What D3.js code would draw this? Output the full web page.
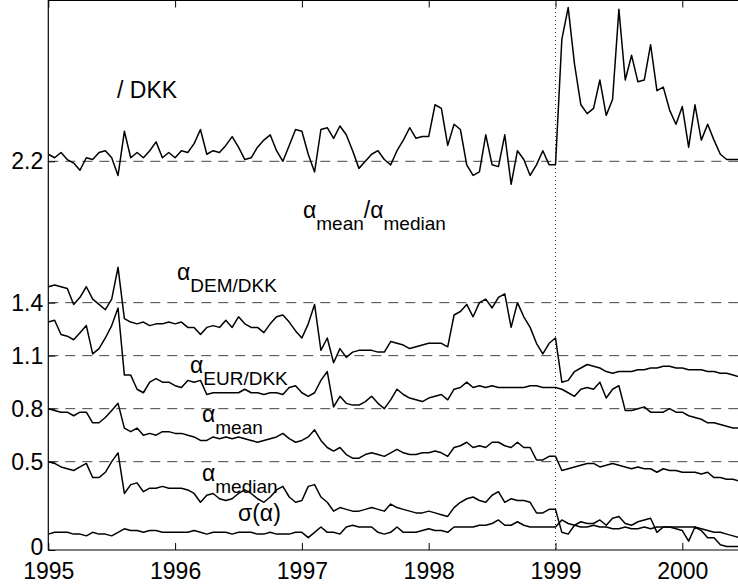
<!DOCTYPE html>
<html>
<head>
<meta charset="utf-8">
<script src="https://cdn.jsdelivr.net/npm/d3@7/dist/d3.min.js"></script>
<style>
  body { margin: 0; background: #fff; }
  text { font-family: "Liberation Sans", Arial, sans-serif; fill: #000; }
</style>
</head>
<body>
<svg id="chart" width="738" height="587"></svg>
<script>
// sampling grid of the series (years)
const startYear = 1995;
const stepYears = 0.05;

// alpha_mean / alpha_median, drawn around 2.2
const ratioValues = [
  2.24, 2.22, 2.25, 2.21, 2.19, 2.15, 2.22, 2.21, 2.25, 2.26,
  2.22, 2.12, 2.37, 2.22, 2.25, 2.22, 2.26, 2.31, 2.22, 2.25,
  2.22, 2.26, 2.25, 2.30, 2.38, 2.24, 2.26, 2.25, 2.29, 2.34,
  2.28, 2.21, 2.22, 2.28, 2.32, 2.35, 2.26, 2.20, 2.29, 2.38,
  2.37, 2.24, 2.14, 2.38, 2.39, 2.33, 2.40, 2.35, 2.26, 2.16,
  2.20, 2.24, 2.26, 2.21, 2.18, 2.26, 2.32, 2.39, 2.33, 2.34,
  2.34, 2.52, 2.50, 2.29, 2.41, 2.38, 2.18, 2.12, 2.14, 2.35,
  2.18, 2.17, 2.35, 2.07, 2.26, 2.21, 2.12, 2.18, 2.26, 2.18,
  2.18, 2.89, 3.07, 2.75, 2.52, 2.47, 2.50, 2.66, 2.46, 2.55,
  3.06, 2.66, 2.80, 2.65, 2.66, 2.86, 2.60, 2.62, 2.49, 2.41,
  2.51, 2.28, 2.52, 2.32, 2.41, 2.32, 2.24, 2.21, 2.21, 2.21
];

// alpha DEM/DKK (offset)
const demDkkValues = [
  1.49, 1.50, 1.49, 1.48, 1.39, 1.43, 1.49, 1.42, 1.39, 1.36,
  1.42, 1.60, 1.31, 1.29, 1.28, 1.29, 1.27, 1.28, 1.28, 1.29,
  1.28, 1.29, 1.26, 1.26, 1.22, 1.26, 1.27, 1.26, 1.30, 1.26,
  1.32, 1.28, 1.26, 1.26, 1.23, 1.28, 1.32, 1.33, 1.29, 1.24,
  1.20, 1.28, 1.39, 1.13, 1.20, 1.06, 1.14, 1.09, 1.12, 1.13,
  1.13, 1.13, 1.12, 1.12, 1.18, 1.17, 1.16, 1.14, 1.15, 1.16,
  1.17, 1.17, 1.17, 1.15, 1.33, 1.35, 1.39, 1.32, 1.40, 1.42,
  1.37, 1.43, 1.45, 1.26, 1.40, 1.32, 1.26, 1.17, 1.11, 1.17,
  1.20, 0.95, 0.96, 1.01, 1.03, 1.05, 1.04, 1.03, 1.01, 1.00,
  1.01, 1.01, 1.01, 1.02, 1.02, 1.03, 1.03, 1.04, 1.04, 1.03,
  1.03, 1.02, 1.02, 1.02, 1.01, 1.01, 1.00, 1.00, 0.99, 0.98
];

// alpha EUR/DKK (offset)
const eurDkkValues = [
  1.29, 1.30, 1.22, 1.21, 1.19, 1.23, 1.27, 1.11, 1.14, 1.20,
  1.27, 1.37, 0.99, 0.99, 0.91, 0.89, 0.95, 0.97, 0.95, 0.95,
  0.93, 0.92, 0.96, 0.95, 0.96, 0.88, 0.89, 0.89, 0.89, 0.89,
  0.89, 0.91, 0.89, 0.89, 0.88, 0.89, 0.89, 0.88, 0.92, 0.93,
  0.89, 0.87, 0.89, 0.96, 1.01, 0.81, 0.87, 0.83, 0.82, 0.82,
  0.84, 0.87, 0.83, 0.80, 0.85, 0.91, 0.88, 0.86, 0.85, 0.84,
  0.86, 0.87, 0.88, 0.85, 0.91, 0.92, 0.95, 0.92, 0.93, 0.92,
  0.93, 0.92, 0.92, 0.92, 0.92, 0.92, 0.93, 0.93, 0.92, 0.92,
  0.92, 0.91, 0.89, 0.87, 0.91, 0.92, 0.91, 0.95, 0.86, 0.91,
  0.93, 0.79, 0.79, 0.80, 0.81, 0.78, 0.78, 0.78, 0.80, 0.78,
  0.78, 0.76, 0.75, 0.74, 0.72, 0.72, 0.71, 0.70, 0.69, 0.69
];

// alpha mean (offset)
const meanValues = [
  0.80, 0.79, 0.78, 0.78, 0.76, 0.78, 0.78, 0.72, 0.72, 0.75,
  0.79, 0.83, 0.69, 0.67, 0.69, 0.65, 0.66, 0.65, 0.67, 0.67,
  0.66, 0.66, 0.65, 0.64, 0.62, 0.62, 0.64, 0.63, 0.64, 0.63,
  0.64, 0.63, 0.62, 0.61, 0.62, 0.63, 0.64, 0.66, 0.63, 0.61,
  0.62, 0.64, 0.68, 0.62, 0.58, 0.56, 0.58, 0.54, 0.52, 0.52,
  0.54, 0.55, 0.54, 0.53, 0.55, 0.57, 0.55, 0.54, 0.54, 0.55,
  0.55, 0.56, 0.55, 0.53, 0.58, 0.59, 0.61, 0.58, 0.59, 0.58,
  0.61, 0.61, 0.59, 0.58, 0.61, 0.58, 0.58, 0.51, 0.51, 0.53,
  0.53, 0.45, 0.46, 0.47, 0.48, 0.49, 0.49, 0.47, 0.48, 0.49,
  0.48, 0.47, 0.46, 0.47, 0.46, 0.46, 0.44, 0.46, 0.45, 0.45,
  0.44, 0.44, 0.44, 0.43, 0.44, 0.41, 0.41, 0.40, 0.40, 0.39
];

// alpha median (offset)
const medianValues = [
  0.50, 0.49, 0.47, 0.46, 0.45, 0.47, 0.49, 0.41, 0.41, 0.44,
  0.50, 0.55, 0.32, 0.37, 0.38, 0.33, 0.35, 0.35, 0.36, 0.35,
  0.35, 0.35, 0.34, 0.32, 0.27, 0.31, 0.32, 0.29, 0.28, 0.29,
  0.32, 0.34, 0.32, 0.29, 0.27, 0.30, 0.34, 0.36, 0.30, 0.27,
  0.28, 0.36, 0.37, 0.30, 0.27, 0.22, 0.24, 0.23, 0.22, 0.22,
  0.23, 0.24, 0.23, 0.22, 0.26, 0.24, 0.23, 0.22, 0.21, 0.21,
  0.22, 0.21, 0.20, 0.19, 0.24, 0.27, 0.29, 0.30, 0.28, 0.27,
  0.31, 0.33, 0.27, 0.29, 0.28, 0.28, 0.27, 0.21, 0.21, 0.23,
  0.23, 0.10, 0.09, 0.14, 0.16, 0.15, 0.15, 0.17, 0.14, 0.18,
  0.19, 0.15, 0.14, 0.16, 0.17, 0.18, 0.10, 0.13, 0.13, 0.12,
  0.11, 0.05, 0.13, 0.11, 0.07, 0.07, 0.03, 0.02, 0.02, 0.02
];

// sigma(alpha)
const sigmaValues = [
  0.09, 0.10, 0.10, 0.10, 0.09, 0.09, 0.08, 0.10, 0.09, 0.09,
  0.08, 0.10, 0.12, 0.11, 0.11, 0.10, 0.11, 0.11, 0.10, 0.10,
  0.10, 0.10, 0.10, 0.11, 0.10, 0.09, 0.10, 0.10, 0.10, 0.09,
  0.10, 0.10, 0.10, 0.09, 0.09, 0.10, 0.09, 0.09, 0.09, 0.10,
  0.10, 0.07, 0.10, 0.13, 0.10, 0.10, 0.09, 0.13, 0.14, 0.13,
  0.13, 0.13, 0.10, 0.09, 0.10, 0.13, 0.10, 0.10, 0.10, 0.11,
  0.12, 0.11, 0.11, 0.10, 0.13, 0.13, 0.13, 0.13, 0.14, 0.14,
  0.15, 0.17, 0.14, 0.14, 0.16, 0.14, 0.13, 0.13, 0.13, 0.13,
  0.13, 0.17, 0.15, 0.14, 0.13, 0.13, 0.14, 0.13, 0.13, 0.12,
  0.12, 0.13, 0.12, 0.12, 0.13, 0.12, 0.13, 0.13, 0.13, 0.13,
  0.13, 0.13, 0.13, 0.12, 0.11, 0.10, 0.10, 0.09, 0.08, 0.07
];

const xTicks = [1995, 1996, 1997, 1998, 1999, 2000];
const yTicks = [0, 0.5, 0.8, 1.1, 1.4, 2.2];
const dashedLevels = [0.5, 0.8, 1.1, 1.4, 2.2];
const breakYear = 1999;

const allSeries = [ratioValues, demDkkValues, eurDkkValues, meanValues, medianValues, sigmaValues];

const W = 738, H = 587;
const plotLeft = 48.3, plotTop = 0, plotBottom = 550;
const yearPx = 126.8;

const svg = d3.select("#chart");

const x = d3.scaleLinear()
  .domain([1995, 2000.5])
  .range([plotLeft, plotLeft + 5.5 * yearPx]);
const y = d3.scaleLinear()
  .domain([0, 3.113])
  .range([plotBottom, plotTop]);

svg.append("clipPath").attr("id", "plot-clip")
  .append("rect")
  .attr("x", plotLeft).attr("y", plotTop)
  .attr("width", W - plotLeft).attr("height", plotBottom - plotTop);

// dashed reference levels
svg.append("g").selectAll("line")
  .data(dashedLevels)
  .enter()
  .append("line")
  .attr("x1", plotLeft).attr("x2", W)
  .attr("y1", d => y(d)).attr("y2", d => y(d))
  .attr("stroke", "#444")
  .attr("stroke-width", 1)
  .attr("stroke-dasharray", "10,7");

// dotted line at the euro introduction
svg.append("line")
  .attr("x1", x(breakYear)).attr("x2", x(breakYear))
  .attr("y1", plotTop).attr("y2", plotBottom)
  .attr("stroke", "#333")
  .attr("stroke-width", 1)
  .attr("stroke-dasharray", "1,3");

const line = d3.line()
  .x((d, i) => x(startYear + i * stepYears))
  .y(d => y(d));

svg.append("g")
  .attr("clip-path", "url(#plot-clip)")
  .selectAll("path")
  .data(allSeries)
  .enter()
  .append("path")
  .attr("d", d => line(d))
  .attr("fill", "none")
  .attr("stroke", "#000")
  .attr("stroke-width", 1.5)
  .attr("stroke-linejoin", "round");

// axes (ticks pointing inward, matlab style)
const xAxis = svg.append("g")
  .attr("transform", `translate(0,${plotBottom})`)
  .call(d3.axisBottom(x).tickValues(xTicks).tickFormat(d3.format("d"))
    .tickSize(-7).tickSizeOuter(0).tickPadding(13));
const xTop = svg.append("g")
  .attr("transform", `translate(0,${plotTop + 0.5})`)
  .call(d3.axisTop(x).tickValues(xTicks).tickFormat("")
    .tickSize(-7).tickSizeOuter(0));
const yAxis = svg.append("g")
  .attr("transform", `translate(${plotLeft},0)`)
  .call(d3.axisLeft(y).tickValues(yTicks).tickFormat(d3.format(""))
    .tickSize(-7).tickSizeOuter(0).tickPadding(5));

[xAxis, xTop, yAxis].forEach(g => {
  g.select(".domain").attr("stroke", "#000").attr("stroke-width", 1.2);
  g.selectAll(".tick line").attr("stroke", "#000");
  g.selectAll("text").attr("font-size", 23)
    .attr("font-family", "'Liberation Sans', Arial, sans-serif");
});
xTop.select(".domain").attr("d", `M${plotLeft},0H${W}`);
xAxis.select(".domain").attr("d", `M${plotLeft},0H${W}`);
yAxis.select(".domain").attr("d", `M0,${plotTop}V${plotBottom}`);
// the "0" sits just above the first year label, as in the original
yAxis.selectAll(".tick text").filter(d => d === 0).attr("dy", "0.2em");

// series labels
function alphaLabel(px, py, sub, rest) {
  const t = svg.append("text").attr("x", px).attr("y", py).attr("font-size", 23);
  t.append("tspan").text("\u03b1");
  t.append("tspan").attr("font-size", 19).attr("dy", 12).text(sub);
  if (rest) {
    t.append("tspan").attr("dy", -12).text("/\u03b1");
    t.append("tspan").attr("font-size", 19).attr("dy", 12).text(rest);
  }
  return t;
}

svg.append("text").attr("x", 117).attr("y", 98).attr("font-size", 23).text("/ DKK");
alphaLabel(303, 218, "mean", "median");
alphaLabel(177, 280, "DEM/DKK");
alphaLabel(190, 373, "EUR/DKK");
alphaLabel(202, 422, "mean");
alphaLabel(202, 481, "median");
svg.append("text").attr("x", 238).attr("y", 521).attr("font-size", 23).text("\u03c3(\u03b1)");
</script>
</body>
</html>
